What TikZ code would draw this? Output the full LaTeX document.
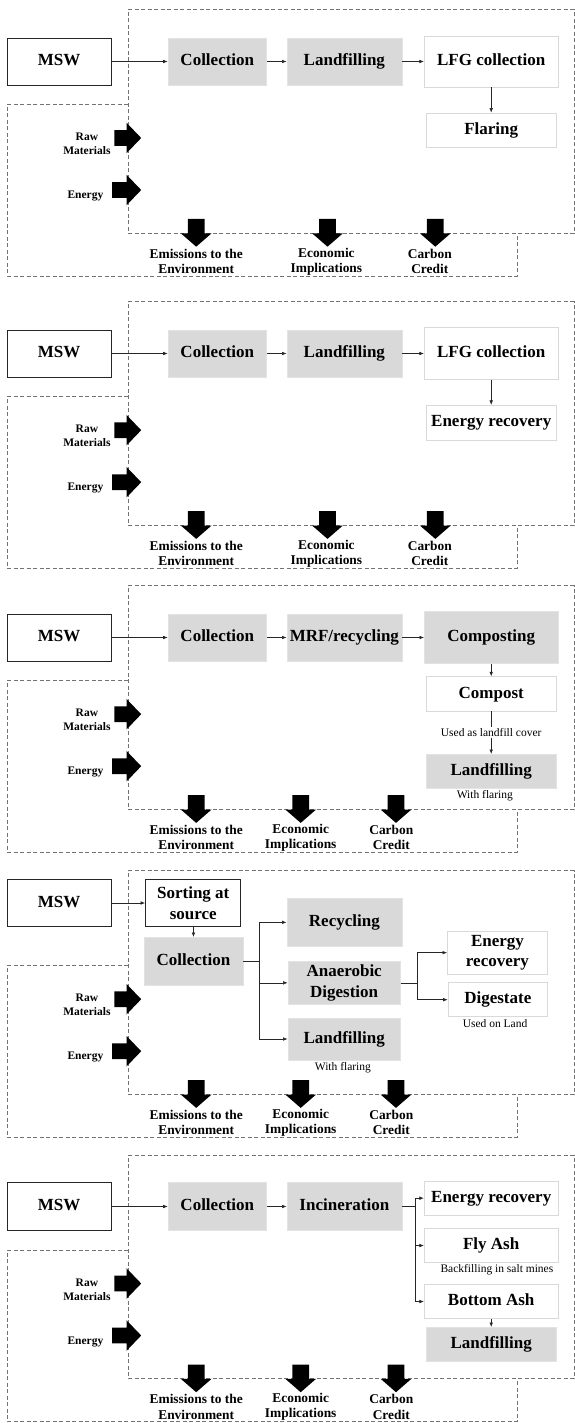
\documentclass[tikz,border=0pt]{standalone}
\usepackage{fontspec}
\setmainfont{Liberation Serif}
\usetikzlibrary{arrows.meta}
\tikzset{
  dashbox/.style={draw=black!55, line width=0.9pt, dash pattern=on 4pt off 2.5pt},
  mainfont/.style={font=\fontsize{17}{20.5}\selectfont\bfseries, align=center, inner sep=0pt},
  onel/.style={text height=12pt, text depth=3.7pt},
  mswbox/.style={mainfont, draw=black!85, line width=0.9pt, fill=white},
  gbox/.style={mainfont, fill=gray!30, draw=gray!22, line width=0.6pt},
  wbox/.style={mainfont, fill=white, draw=gray!30, line width=0.8pt},
  caption/.style={font=\fontsize{11.5}{13}\selectfont, inner sep=1pt},
  sidelbl/.style={font=\fontsize{11.5}{14}\selectfont\bfseries, align=center, inner sep=0pt},
  botlbl/.style={font=\fontsize{13.4}{15.3}\selectfont\bfseries, align=center, inner sep=0pt},
  arr/.style={-{Latex[length=4.5pt,width=3.6pt]}, line width=0.6pt, draw=black!85},
  ln/.style={line width=0.6pt, draw=black!85},
  blk/.style={fill=black}
}
% #1 top, #2 econ arrow x, #3 carbon arrow x, #4 econ text x, #5 carbon text x, #6 suffix
\newcommand\panelframe[6]{%
\begin{scope}[yshift=-#1 pt]
  \draw[dashbox] (128.3,0) -- (574,0) -- (574,223.8) -- (128.3,223.8) -- cycle;
  \draw[dashbox] (128.3,95) -- (7.3,95) -- (7.3,266.5) -- (517,266.5) -- (517,223.8);
  % side block arrows
  \fill[blk] (114.4,120.7) -- (126.5,120.7) -- (126.5,113.2) -- (141.2,128.5) -- (126.5,143.8) -- (126.5,136.3) -- (114.4,136.3) -- cycle;
  \fill[blk] (112.2,172.7) -- (126.5,172.7) -- (126.5,165.2) -- (141.2,180.5) -- (126.5,195.8) -- (126.5,188.3) -- (112.2,188.3) -- cycle;
  \node[sidelbl] (raw#6) at (86.9,134.5) {Raw\\Materials};
  \node[sidelbl] (ene#6) at (85.4,186.5) {Energy};
  % down block arrows
  \foreach \cx in {196.2,#2,#3}{
    \fill[blk] (\cx-8.4,209.5) -- (\cx+8.4,209.5) -- (\cx+8.4,223.8) -- (\cx+15.4,223.8) -- (\cx,237.2) -- (\cx-15.4,223.8) -- (\cx-8.4,223.8) -- cycle;
  }
  \node[botlbl] (emis#6) at (196.2,252) {Emissions to the\\Environment};
  \node[botlbl] (econ#6) at (#4,252) {Economic\\Implications};
  \node[botlbl] (carb#6) at (#5,252) {Carbon\\Credit};
\end{scope}}
\begin{document}
\begin{tikzpicture}[x=1pt,y=-1pt]
\useasboundingbox (0,0) rectangle (575,1423);
\fill[white] (0,0) rectangle (575,1423);

\panelframe{9.5}{327.5}{435.3}{326.4}{429.8}{A}
\panelframe{301.7}{327.5}{435.3}{326.4}{429.8}{B}
\panelframe{585.7}{300.7}{396}{300.7}{391.3}{C}
\panelframe{870.7}{300.7}{396}{300.7}{391.3}{D}
\panelframe{1155}{300.7}{396}{300.7}{391.3}{E}

% ---------- Panel 1
\node[mswbox, onel, minimum width=103.8pt, minimum height=47pt] (mswA) at (59.2,61.5) {MSW};
\node[gbox, onel, minimum width=98.6pt, minimum height=47pt] (colA) at (217.3,61.5) {Collection};
\node[gbox, onel, minimum width=115.1pt, minimum height=47pt] (lfA) at (344.35,61.5) {Landfilling};
\node[wbox, onel, minimum width=133.8pt, minimum height=51pt] (lfgA) at (491.2,61.5) {LFG collection};
\node[wbox, onel, minimum width=130.2pt, minimum height=34pt] (flA) at (491.2,130) {Flaring};
\draw[arr] (mswA) -- (colA);
\draw[arr] (colA) -- (lfA);
\draw[arr] (lfA) -- (lfgA);
\draw[arr] (lfgA) -- (flA);

% ---------- Panel 2
\node[mswbox, onel, minimum width=103.8pt, minimum height=47pt] (mswB) at (59.2,353.5) {MSW};
\node[gbox, onel, minimum width=98.6pt, minimum height=47pt] (colB) at (217.3,353.5) {Collection};
\node[gbox, onel, minimum width=115.1pt, minimum height=47pt] (lfB) at (344.35,353.5) {Landfilling};
\node[wbox, onel, minimum width=133.8pt, minimum height=51.3pt] (lfgB) at (491.2,353.5) {LFG collection};
\node[wbox, onel, minimum width=130.2pt, minimum height=34.7pt] (erB) at (491.2,422.65) {Energy recovery};
\draw[arr] (mswB) -- (colB);
\draw[arr] (colB) -- (lfB);
\draw[arr] (lfB) -- (lfgB);
\draw[arr] (lfgB) -- (erB);

% ---------- Panel 3
\node[mswbox, onel, minimum width=103.8pt, minimum height=47pt] (mswC) at (59.2,637.5) {MSW};
\node[gbox, onel, minimum width=98.6pt, minimum height=47pt] (colC) at (217.3,637.5) {Collection};
\node[gbox, onel, minimum width=115.1pt, minimum height=47pt] (mrfC) at (344.35,637.5) {MRF/recycling};
\node[gbox, onel, minimum width=133.8pt, minimum height=52.3pt] (compC) at (491.2,637.5) {Composting};
\node[wbox, onel, minimum width=130.2pt, minimum height=34.3pt] (compostC) at (491.2,693.85) {Compost};
\node[caption] (coverC) at (491.2,732.3) {Used as landfill cover};
\node[gbox, onel, minimum width=130.2pt, minimum height=34pt] (lfC) at (491.2,771.3) {Landfilling};
\node[caption] (flareC) at (484.8,795.3) {With flaring};
\draw[arr] (mswC) -- (colC);
\draw[arr] (colC) -- (mrfC);
\draw[arr] (mrfC) -- (compC);
\draw[arr] (compC) -- (compostC);
\draw[ln] (compostC) -- (coverC);
\draw[arr] (coverC) -- (lfC);

% ---------- Panel 4
\node[mswbox, onel, minimum width=103.8pt, minimum height=47.4pt] (mswD) at (59.2,903) {MSW};
\node[mswbox, minimum width=95.3pt, minimum height=47.4pt] (sortD) at (193.25,903) {Sorting at\\source};
\node[gbox, onel, minimum width=98.7pt, minimum height=47.7pt] (colD) at (193.45,961.15) {Collection};
\node[gbox, onel, minimum width=115.1pt, minimum height=47.3pt] (recD) at (344.35,922.35) {Recycling};
\node[gbox, minimum width=112.5pt, minimum height=42.3pt] (adD) at (344.15,982.85) {Anaerobic\\Digestion};
\node[gbox, onel, minimum width=112.5pt, minimum height=42pt] (lfD) at (344.15,1039) {Landfilling};
\node[caption] (flareD) at (342.9,1067.3) {With flaring};
\node[wbox, minimum width=100.1pt, minimum height=43.3pt] (erD) at (497.45,952.65) {Energy\\recovery};
\node[wbox, onel, minimum width=99.4pt, minimum height=34pt] (digD) at (497.8,999.7) {Digestate};
\node[caption] (landD) at (495,1024) {Used on Land};
\draw[arr] (mswD) -- (sortD);
\draw[arr] (sortD.south -| colD.north) -- (colD);
\coordinate (brD) at (259.3,961.15);
\draw[ln] (colD.east) -- (brD);
\draw[ln] (brD |- recD) -- (brD |- lfD);
\draw[arr] (brD |- recD) -- (recD.west);
\draw[arr] (brD |- adD) -- (adD.west);
\draw[arr] (brD |- lfD) -- (lfD.west);
\coordinate (brD2) at (416.9,982.85);
\draw[ln] (adD.east) -- (brD2);
\draw[ln] (brD2 |- erD) -- (brD2 |- digD);
\draw[arr] (brD2 |- erD) -- (erD.west);
\draw[arr] (brD2 |- digD) -- (digD.west);

% ---------- Panel 5
\node[mswbox, onel, minimum width=103.8pt, minimum height=47.6pt] (mswE) at (59.2,1206.5) {MSW};
\node[gbox, onel, minimum width=98.6pt, minimum height=47.6pt] (colE) at (217.3,1206.5) {Collection};
\node[gbox, onel, minimum width=115.1pt, minimum height=47.6pt] (incE) at (344.35,1206.5) {Incineration};
\node[wbox, onel, minimum width=133.8pt, minimum height=34.3pt] (erE) at (491.2,1198.15) {Energy recovery};
\node[wbox, onel, minimum width=133.8pt, minimum height=34.4pt] (flyE) at (491.2,1245.5) {Fly Ash};
\node[caption] (saltE) at (496.9,1269.3) {Backfilling in salt mines};
\node[wbox, onel, minimum width=133.8pt, minimum height=34.4pt] (botE) at (491.2,1301.5) {Bottom Ash};
\node[gbox, onel, minimum width=129.8pt, minimum height=34.4pt] (lfE) at (491.2,1344.5) {Landfilling};
\draw[arr] (mswE) -- (colE);
\draw[arr] (colE) -- (incE);
\coordinate (brE) at (415.5,1206.5);
\draw[ln] (incE.east) -- (brE);
\draw[ln] (brE |- erE) -- (brE |- botE);
\draw[arr] (brE |- erE) -- (erE.west);
\draw[arr] (brE |- flyE) -- (flyE.west);
\draw[arr] (brE |- botE) -- (botE.west);
\draw[arr] (botE) -- (lfE);
\end{tikzpicture}
\end{document}
